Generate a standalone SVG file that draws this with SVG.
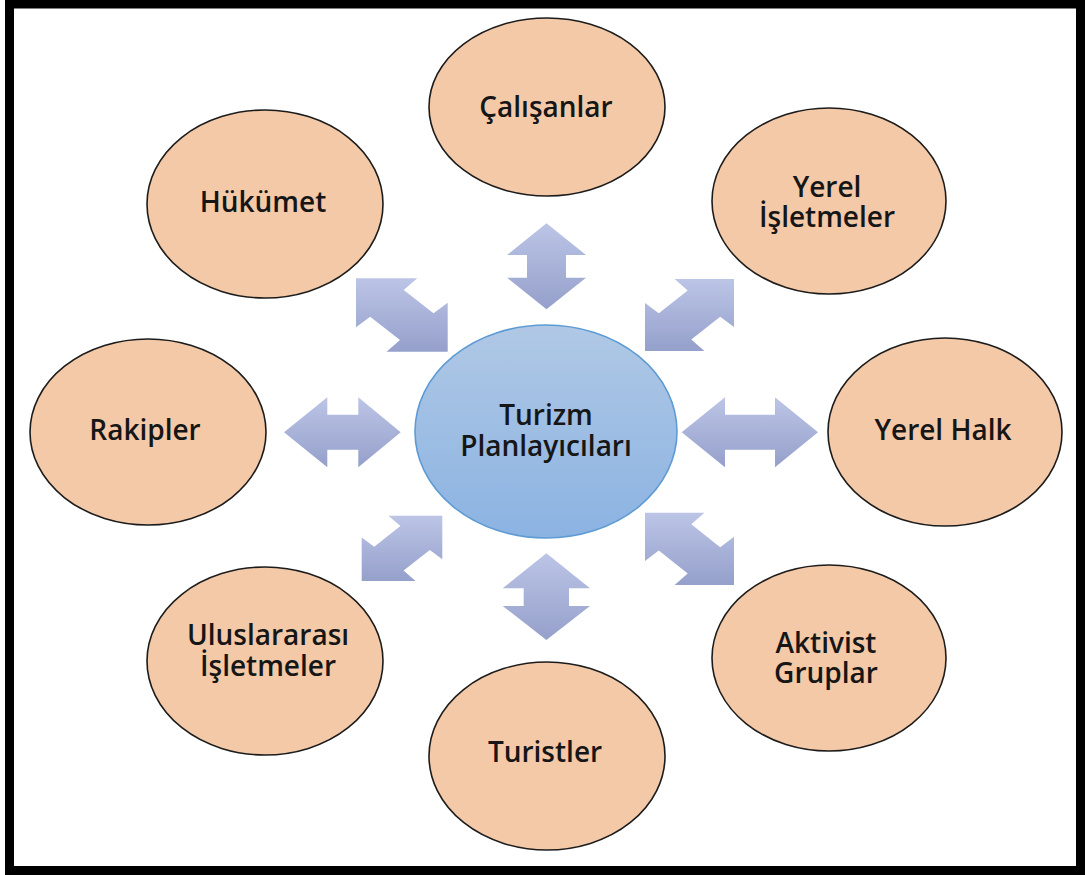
<svg xmlns="http://www.w3.org/2000/svg" width="1085" height="875" viewBox="0 0 1085 875">
  <style>
    .node { fill: #F4C9A8; stroke: #1c1c1c; stroke-width: 1.6; }
    .hub { fill: url(#hubFill); stroke: #5E9BD4; stroke-width: 1.6; }
    .lbl { font-family: "Open Sans", "Liberation Sans", sans-serif; font-weight: 600; font-size: 28px; fill: #161616; text-anchor: middle; }
    .arrow { fill: url(#arrowFill); stroke: none; }
  </style>
  <defs>
    <linearGradient id="arrowFill" x1="0" y1="0" x2="0" y2="1">
      <stop offset="0" stop-color="#BCC5E6"/>
      <stop offset="1" stop-color="#95A0CB"/>
    </linearGradient>
    <linearGradient id="hubFill" x1="0" y1="0" x2="0" y2="1">
      <stop offset="0" stop-color="#B0C8E5"/>
      <stop offset="1" stop-color="#8BB3E2"/>
    </linearGradient>
  </defs>

  <rect x="0" y="0" width="1085" height="875" fill="#ffffff"/>
  <!-- outer frame -->
  <rect x="9.5" y="4" width="1071" height="866.5" fill="none" stroke="#000000" stroke-width="9"/>

  <!-- two-headed arrows between the hub and the stakeholders -->
  <g id="connectors">
    <polygon class="arrow" points="546.5,223.3 586,255 566,255 566,277.7 586,277.7 546.5,309.3 507,277.7 527,277.7 527,255 507,255"/>
    <polygon class="arrow" points="546.4,553.3 590,588.3 569,588.3 569,606 590,606 546.4,640 502.7,606 523.7,606 523.7,588.3 502.7,588.3"/>
    <polygon class="arrow" points="284,432.3 327.3,397.3 327.3,414.8 358.3,414.8 358.3,397.3 400.7,432.3 358.3,467.3 358.3,449.8 327.3,449.8 327.3,467.3"/>
    <polygon class="arrow" points="681.7,432.3 725,397.3 725,414.8 775,414.8 775,397.3 818,432.3 775,467.3 775,449.8 725,449.8 725,467.3"/>
    <polygon class="arrow" points="356,278.3 417.2,278.3 403.7,290 433.5,313.3 447.7,302.7 447.7,351.7 386.5,351.7 400,340 370.2,316.7 356,327.3"/>
    <polygon class="arrow" points="645,512.7 704.4,512.7 691.3,524.3 720.2,547.2 734,536.8 734,585 674.6,585 687.7,573.4 658.8,550.5 645,560.9"/>
    <polygon class="arrow" points="734,279 674.6,279 687.7,290.5 658.8,313.3 645,303 645,351 704.4,351 691.3,339.5 720.2,316.7 734,327"/>
    <polygon class="arrow" points="442.3,515.7 388.5,515.7 400.4,526.1 374.2,546.8 361.7,537.4 361.7,581 415.5,581 403.6,570.6 429.8,549.9 442.3,559.3"/>
  </g>

  <g id="hub">
    <ellipse class="hub" cx="546" cy="431.5" rx="131" ry="106.5"/>
    <text class="lbl" font-size="27"><tspan x="546" y="425">Turizm</tspan><tspan x="546" y="456">Planlayıcıları</tspan></text>
  </g>

  <g id="calisanlar">
    <ellipse class="node" cx="547" cy="107" rx="118" ry="89"/>
    <text class="lbl" x="546" y="117">Çalışanlar</text>
  </g>
  <g id="hukumet">
    <ellipse class="node" cx="265" cy="204" rx="118" ry="94"/>
    <text class="lbl" x="263" y="212">Hükümet</text>
  </g>
  <g id="yerel-isletmeler">
    <ellipse class="node" cx="829" cy="201" rx="117" ry="93"/>
    <text class="lbl"><tspan x="827" y="197">Yerel</tspan><tspan x="827" y="227">İşletmeler</tspan></text>
  </g>
  <g id="rakipler">
    <ellipse class="node" cx="148" cy="432" rx="118" ry="93"/>
    <text class="lbl" x="145" y="440">Rakipler</text>
  </g>
  <g id="yerel-halk">
    <ellipse class="node" cx="945" cy="432" rx="117" ry="94"/>
    <text class="lbl" x="943" y="440">Yerel Halk</text>
  </g>
  <g id="uluslararasi-isletmeler">
    <ellipse class="node" cx="265" cy="661" rx="118" ry="94"/>
    <text class="lbl"><tspan x="268" y="645">Uluslararası</tspan><tspan x="268" y="676">İşletmeler</tspan></text>
  </g>
  <g id="aktivist-gruplar">
    <ellipse class="node" cx="829" cy="658" rx="117" ry="93"/>
    <text class="lbl"><tspan x="826" y="653">Aktivist</tspan><tspan x="826" y="683">Gruplar</tspan></text>
  </g>
  <g id="turistler">
    <ellipse class="node" cx="547" cy="756" rx="118" ry="94"/>
    <text class="lbl" x="545" y="762">Turistler</text>
  </g>
</svg>
